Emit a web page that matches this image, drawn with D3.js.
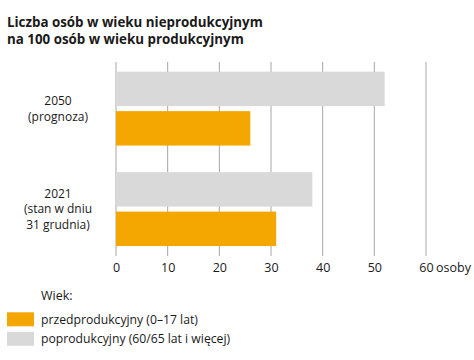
<!DOCTYPE html>
<html><head><meta charset="utf-8">
<script src="https://cdn.jsdelivr.net/npm/d3@7"></script>
<style>body{margin:0;background:#fff}svg{display:block}text{font-family:"Open Sans","Noto Sans",sans-serif;fill:#1a1a1a}</style>
</head><body><svg id="c" width="474" height="360"></svg>
<script>
const titleLines = ["Liczba osób w wieku nieprodukcyjnym", "na 100 osób w wieku produkcyjnym"];
const categories = ["2050", "2021"];
const categoryLabels = [["2050", "(prognoza)"], ["2021", "(stan w dniu", "31 grudnia)"]];
const series = ["poprodukcyjny", "przedprodukcyjny"];
const seriesLabels = ["poprodukcyjny (60/65 lat i więcej)", "przedprodukcyjny (0–17 lat)"];
const poprodukcyjny = [52, 38];
const przedprodukcyjny = [26, 31];
const ticks = [0, 10, 20, 30, 40, 50, 60];
const unitLabel = "osoby";
const legendTitle = "Wiek:";

const colors = {poprodukcyjny: "#d9d9d9", przedprodukcyjny: "#f4a700"};
const svg = d3.select("#c");

function fit(sel, target) {
  const w = sel.node().getComputedTextLength();
  const fs = parseFloat(sel.attr("font-size"));
  sel.attr("font-size", fs * target / w);
}

// Title
const t1 = svg.append("text").attr("x", 7).attr("y", 27).attr("font-size", 15).attr("font-weight", "bold").text(titleLines[0]);
fit(t1, 256);
svg.append("text").attr("x", 7).attr("y", 44).attr("font-size", t1.attr("font-size")).attr("font-weight", "bold").text(titleLines[1]);

const x = d3.scaleLinear().domain([0, 60]).range([116, 426]);
const y = d3.scaleBand().domain(categories).range([58.4, 259.3]).paddingInner(0.264).paddingOuter(0.132);
const yi = d3.scaleBand().domain(series).range([0, y.bandwidth()]).paddingInner(0.127);

// grid
svg.append("g").selectAll("line").data(ticks).join("line")
  .attr("x1", d => x(d)).attr("x2", d => x(d))
  .attr("y1", 62).attr("y2", 256)
  .attr("stroke", "#a6a6a6").attr("stroke-width", 1);

const data = categories.map((c, i) => ({c, poprodukcyjny: poprodukcyjny[i], przedprodukcyjny: przedprodukcyjny[i]}));
const g = svg.append("g").selectAll("g").data(data).join("g").attr("transform", d => `translate(0,${y(d.c)})`);
g.selectAll("rect").data(d => series.map(s => ({s, v: d[s]}))).join("rect")
  .attr("x", x(0)).attr("y", d => yi(d.s))
  .attr("width", d => x(d.v) - x(0)).attr("height", yi.bandwidth())
  .attr("fill", d => colors[d.s]);

// category labels
categories.forEach((c, i) => {
  const lines = categoryLabels[i];
  const cy = y(c) + y.bandwidth() / 2;
  const lh = 15.5;
  lines.forEach((l, j) => {
    svg.append("text").attr("x", 58).attr("y", cy + (j - (lines.length - 1) / 2) * lh)
      .attr("dy", "0.35em").attr("text-anchor", "middle").attr("font-size", 12).text(l);
  });
});

// x axis labels
const axis = d3.axisBottom(x).tickValues(ticks).tickSize(0).tickPadding(0);
const ag = svg.append("g").attr("transform", "translate(0,268)").call(axis);
ag.select(".domain").remove();
ag.selectAll("text").attr("dy", "0.35em").attr("y", 0).attr("font-size", 12.5)
  .style("font-family", '"Open Sans","Noto Sans",sans-serif').attr("fill", "#1a1a1a");
svg.append("text").attr("x", x(60) + 10).attr("y", 268).attr("dy", "0.35em").attr("font-size", 12.5).text(unitLabel);

// legend
svg.append("text").attr("x", 41).attr("y", 300).attr("font-size", 12.5).text(legendTitle);
const legendOrder = ["przedprodukcyjny", "poprodukcyjny"];
let lfs = 12.5;
legendOrder.forEach((s, i) => {
  const yy = 312.3 + i * 19.5;
  svg.append("rect").attr("x", 7).attr("y", yy).attr("width", 27).attr("height", 14).attr("fill", colors[s]);
  const tt = svg.append("text").attr("x", 41).attr("y", yy + 7).attr("dy", "0.35em").attr("font-size", lfs)
    .text(seriesLabels[series.indexOf(s)]);
  if (i === 0) { fit(tt, 157); lfs = tt.attr("font-size"); }
});
</script></body></html>
